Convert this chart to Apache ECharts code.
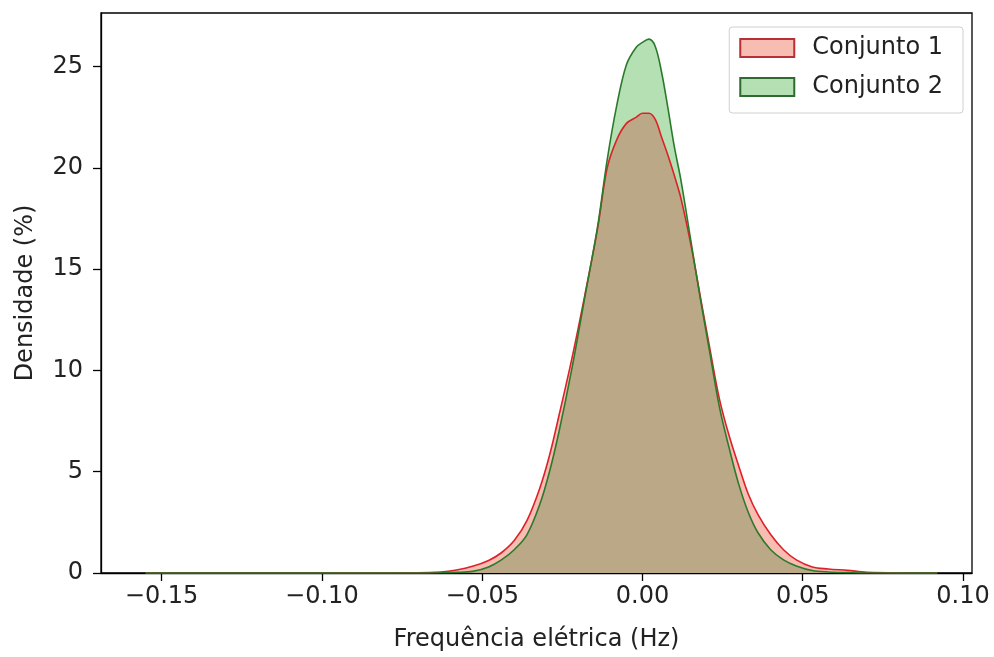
<!DOCTYPE html>
<html>
<head>
<meta charset="utf-8">
<script src="https://cdn.jsdelivr.net/npm/echarts@6/dist/echarts.min.js"></script>
<style>
html,body{margin:0;padding:0;background:#fff;}
#chart{width:994px;height:657px;}
</style>
</head>
<body>
<div id="chart"></div>
<script>
// Frequency grid (Hz)
const freq = [-0.155, -0.07, -0.063, -0.058, -0.053, -0.048, -0.044, -0.040, -0.036, -0.032, -0.029, -0.026, -0.022, -0.018, -0.014, -0.011, -0.008, -0.005, -0.002, 0.000, 0.002, 0.004, 0.006, 0.008, 0.010, 0.012, 0.015, 0.018, 0.021, 0.024, 0.027, 0.030, 0.033, 0.036, 0.040, 0.044, 0.048, 0.053, 0.058, 0.064, 0.070, 0.092];
// Conjunto 1 density (%)
const conjunto1 = [0, 0.01, 0.05, 0.15, 0.33, 0.62, 1.0, 1.6, 2.6, 4.2, 5.8, 7.8, 10.6, 13.7, 17.0, 20.0, 21.4, 22.2, 22.5, 22.7, 22.7, 22.4, 21.5, 20.6, 19.6, 18.5, 16.3, 13.7, 11.1, 8.6, 6.8, 5.3, 3.9, 2.9, 1.9, 1.15, 0.65, 0.3, 0.2, 0.13, 0.04, 0];
// Conjunto 2 density (%)
const conjunto2 = [0, 0, 0.01, 0.03, 0.08, 0.3, 0.65, 1.15, 1.9, 3.4, 5.0, 7.0, 10.1, 13.6, 17.1, 20.4, 23.1, 25.1, 25.95, 26.2, 26.36, 26.0, 24.7, 22.9, 21.0, 19.4, 16.5, 13.6, 10.9, 8.2, 6.2, 4.4, 3.0, 2.0, 1.15, 0.65, 0.35, 0.12, 0.05, 0.02, 0, 0];
const xTicks = [-0.15, -0.10, -0.05, 0.00, 0.05, 0.10];
const yTicks = [0, 5, 10, 15, 20, 25];
const names = ['Conjunto 1', 'Conjunto 2'];

const overlap = conjunto1.map((v, i) => Math.min(v, conjunto2[i]));
const pairs = arr => freq.map((x, i) => [x, arr[i]]);

const RED_LINE = '#dc2228', RED_FILL = '#f7bcb2', RED_EDGE = '#b83036';
const GREEN_LINE = '#2b7a2b', GREEN_FILL = '#b5e0b3', GREEN_EDGE = '#2f6a30';
const TAN = '#baa886';
const FONT = 'DejaVu Sans';
const FS = 24;
const SMOOTH = 0.35;

const chart = echarts.init(document.getElementById('chart'), null, {renderer: 'canvas'});
const fmtX = v => {
  const s = Math.abs(v).toFixed(2);
  return (v < -1e-9 ? '\u2212' : '') + s;
};
chart.setOption({
  animation: false,
  backgroundColor: '#fff',
  grid: {left: 101, right: 22, top: 13, bottom: 81, show: true, borderColor: '#000', borderWidth: 1.3, backgroundColor: 'transparent'},
  legend: {
    orient: 'vertical', right: 31, top: 27,
    padding: [9, 20, 14, 10], itemGap: 15,
    itemWidth: 54, itemHeight: 18,
    backgroundColor: 'rgba(255,255,255,0.8)', borderColor: '#d0d0d0', borderWidth: 1, borderRadius: 3,
    textStyle: {fontFamily: FONT, fontSize: FS, color: '#222', lineHeight: 24, padding: [0, 0, 0, 13]},
    icon: 'rect',
    data: [
      {name: names[0], icon: 'rect', itemStyle: {color: RED_FILL, borderColor: RED_EDGE, borderWidth: 2}},
      {name: names[1], icon: 'rect', itemStyle: {color: GREEN_FILL, borderColor: GREEN_EDGE, borderWidth: 2}}
    ]
  },
  xAxis: {
    type: 'value', min: -0.1689, max: 0.1028,
    name: 'Frequência elétrica (Hz)', nameLocation: 'middle', nameGap: 55,
    nameTextStyle: {fontFamily: FONT, fontSize: FS, color: '#222'},
    splitLine: {show: false},
    axisLine: {show: true, onZero: false, lineStyle: {color: '#000', width: 1.3}},
    axisTick: {show: true, length: 8, lineStyle: {color: '#000', width: 1.3}, customValues: xTicks},
    axisLabel: {fontFamily: FONT, fontSize: FS, color: '#222', margin: 12, customValues: xTicks, formatter: fmtX}
  },
  yAxis: {
    type: 'value', min: 0, max: 27.65,
    name: 'Densidade (%)', nameLocation: 'middle', nameGap: 63, nameRotate: 90,
    nameTextStyle: {fontFamily: FONT, fontSize: FS, color: '#222'},
    splitLine: {show: false},
    axisLine: {show: true, onZero: false, lineStyle: {color: '#000', width: 1.3}},
    axisTick: {show: true, length: 8, lineStyle: {color: '#000', width: 1.3}, customValues: yTicks},
    axisLabel: {fontFamily: FONT, fontSize: FS, color: '#222', margin: 18, customValues: yTicks, formatter: v => String(v)}
  },
  series: [
    {name: 'fill1', type: 'line', data: pairs(conjunto1), smooth: SMOOTH, showSymbol: false, symbol: 'none', z: 1,
     lineStyle: {width: 0, opacity: 0}, areaStyle: {color: RED_FILL, opacity: 1}, silent: true},
    {name: 'fill2', type: 'line', data: pairs(conjunto2), smooth: SMOOTH, showSymbol: false, symbol: 'none', z: 1,
     lineStyle: {width: 0, opacity: 0}, areaStyle: {color: GREEN_FILL, opacity: 1}, silent: true},
    {name: 'overlap', type: 'line', data: pairs(overlap), smooth: SMOOTH, showSymbol: false, symbol: 'none', z: 2,
     lineStyle: {width: 0, opacity: 0}, areaStyle: {color: TAN, opacity: 1}, silent: true},
    {name: names[0], type: 'line', data: pairs(conjunto1), smooth: SMOOTH, showSymbol: false, symbol: 'none', z: 3,
     color: RED_LINE, lineStyle: {color: RED_LINE, width: 1.6}},
    {name: names[1], type: 'line', data: pairs(conjunto2), smooth: SMOOTH, showSymbol: false, symbol: 'none', z: 3,
     color: GREEN_LINE, lineStyle: {color: GREEN_LINE, width: 1.6}}
  ]
});
</script>
</body>
</html>
